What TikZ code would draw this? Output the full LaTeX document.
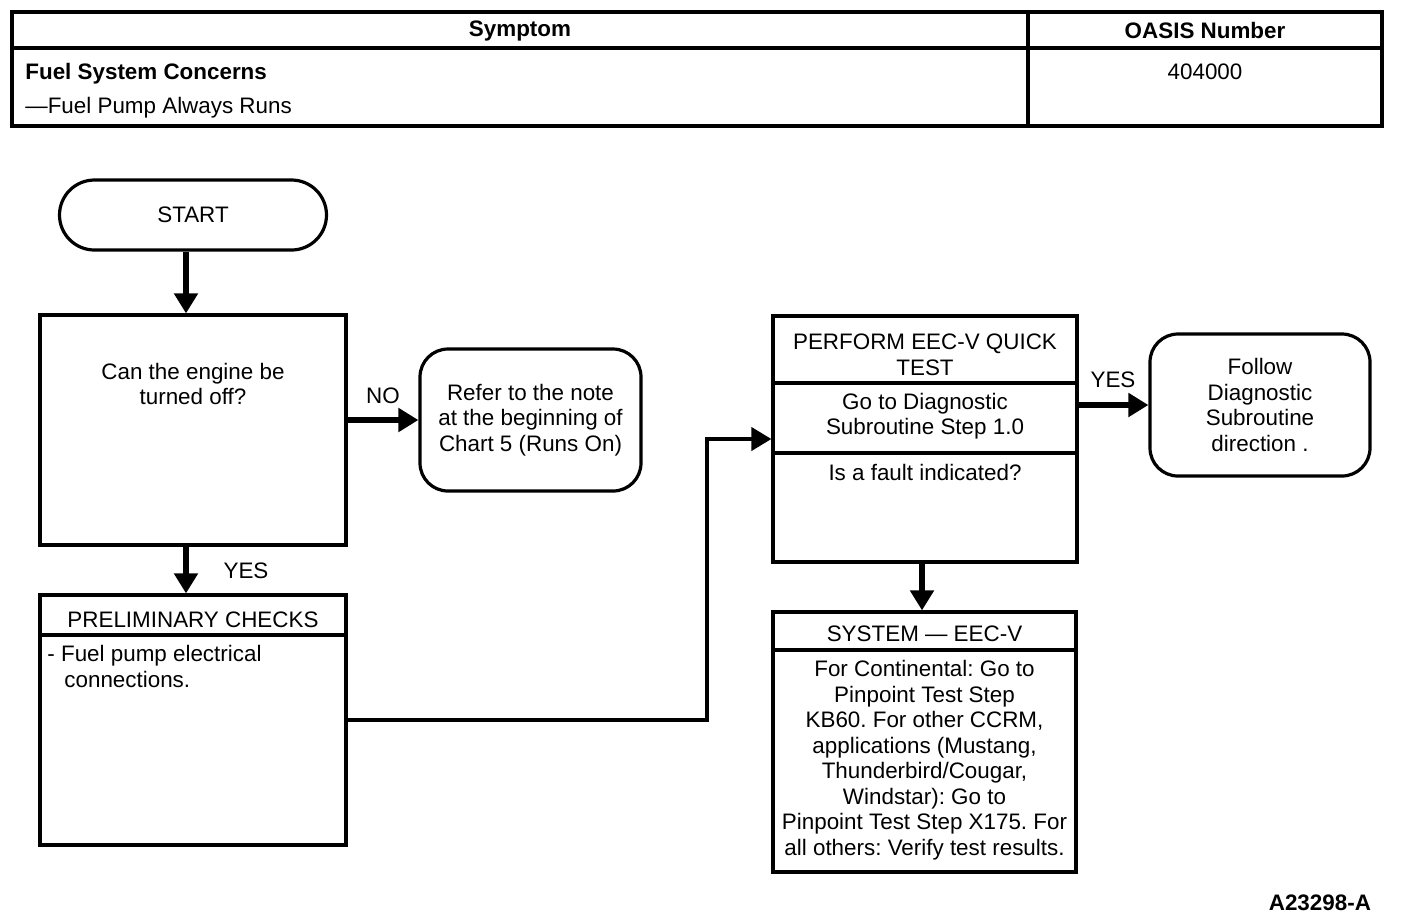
\documentclass[tikz,border=0pt]{standalone}
\usepackage{fontspec}
\setmainfont{Liberation Sans}
\usetikzlibrary{arrows.meta,positioning}
\frenchspacing

\begin{document}
\begin{tikzpicture}[x=0.5pt,y=-0.5pt,
  every node/.style={font=\fontsize{11.2}{12.75}\selectfont},
  bold/.style={font=\fontsize{11.2}{12.75}\selectfont\bfseries},
  box/.style={draw,line width=1.6pt,rectangle,inner sep=0pt},
  roundbox/.style={draw,line width=1.6pt,rounded corners=14pt,align=center},
  txt/.style={align=center},
  rule/.style={line width=1.6pt},
  flow/.style={line width=3pt,-{Triangle[length=10pt,width=11.5pt]}},
  link/.style={line width=2pt,-{Triangle[length=10pt,width=11.5pt]}}]
\useasboundingbox (0,0) rectangle (1408,918);

% symptom table
\draw[rule] (12,12) rectangle (1382,126);
\draw[rule] (12,48) -- (1382,48);
\draw[rule] (1028,12) -- (1028,126);
\node[bold] (symhd) at (520,31) {Symptom};
\node[bold] (oasishd) at (1205,30) {OASIS Number};
\node[bold,anchor=west,inner sep=0pt] (concern) at (25,74) {Fuel System Concerns};
\node[anchor=west,inner sep=0pt] (pumpruns) at (25,108) {—Fuel Pump Always Runs};
\node (oasisnum) at (1205,72) {404000};

% left column
\node[roundbox,minimum width=133.5pt,minimum height=35pt,rounded corners=17.5pt] (start) at (193,215) {START};
\node[box,minimum width=153pt,minimum height=115pt] (q1) at (193,430) {};
\node[txt] (q1txt) at (193,384) {Can the engine be\\turned off?};
\node[roundbox,minimum width=110.5pt,minimum height=71pt] (refer) at (530.5,420) {Refer to the note\\at the beginning of\\Chart 5 (Runs On)};

\node[box,minimum width=153pt,minimum height=125pt] (prelim) at (193,720) {};
\node (prelimhd) at (193,620) {PRELIMINARY CHECKS};
\draw[rule] (prelim.west |- 0,635) -- (prelim.east |- 0,635);
\node[anchor=north west,align=left,inner sep=0pt] (prelimtxt) at (47,645) {- Fuel pump electrical\\\hspace*{8.5pt}connections.};

% right column
\node[box,minimum width=152pt,minimum height=123pt] (eec) at (925,439) {};
\node[txt] (eechd) at (925,355) {PERFORM EEC-V QUICK\\TEST};
\draw[rule] (eec.west |- 0,383) -- (eec.east |- 0,383);
\node[txt] (eecgo) at (925,416) {Go to Diagnostic\\Subroutine Step 1.0};
\draw[rule] (eec.west |- 0,453) -- (eec.east |- 0,453);
\node (eecq) at (925,472) {Is a fault indicated?};

\node[roundbox,minimum width=110pt,minimum height=71pt] (follow) at (1260,405) {Follow\\Diagnostic\\Subroutine\\direction .};

\node[box,minimum width=151.5pt,minimum height=130pt] (sys) at (924.5,742) {};
\node (syshd) at (924.5,634) {SYSTEM — EEC-V};
\draw[rule] (sys.west |- 0,650) -- (sys.east |- 0,650);
\node[txt] (systxt) at (924.5,760) {For Continental: Go to\\Pinpoint Test Step\\KB60. For other CCRM,\\applications (Mustang,\\Thunderbird/Cougar,\\Windstar): Go to\\Pinpoint Test Step X175. For\\all others: Verify test results.};

% connectors
\draw[flow] ([xshift=-3.5pt]start.south) -- ([xshift=-3.5pt]q1.north);
\draw[flow] (q1.east |- refer.west) -- (refer.west);
\node (nolbl) at (383,396) {NO};
\draw[flow] ([xshift=-3.5pt]q1.south) -- ([xshift=-3.5pt]prelim.north);
\node (yeslbl) at (246,571) {YES};
\coordinate (bend) at (707,439);
\draw[link] (prelim.east) -| (bend) -- (eec.west);
\draw[flow] (eec.east |- follow.west) -- (follow.west);
\node (yeslbl2) at (1113,380) {YES};
\draw[flow] ([xshift=-1.5pt]eec.south) -- ([xshift=-1.5pt]eec.south |- sys.north);

\node[bold,anchor=east] (figid) at (1378,903) {A23298-A};
\end{tikzpicture}
\end{document}
